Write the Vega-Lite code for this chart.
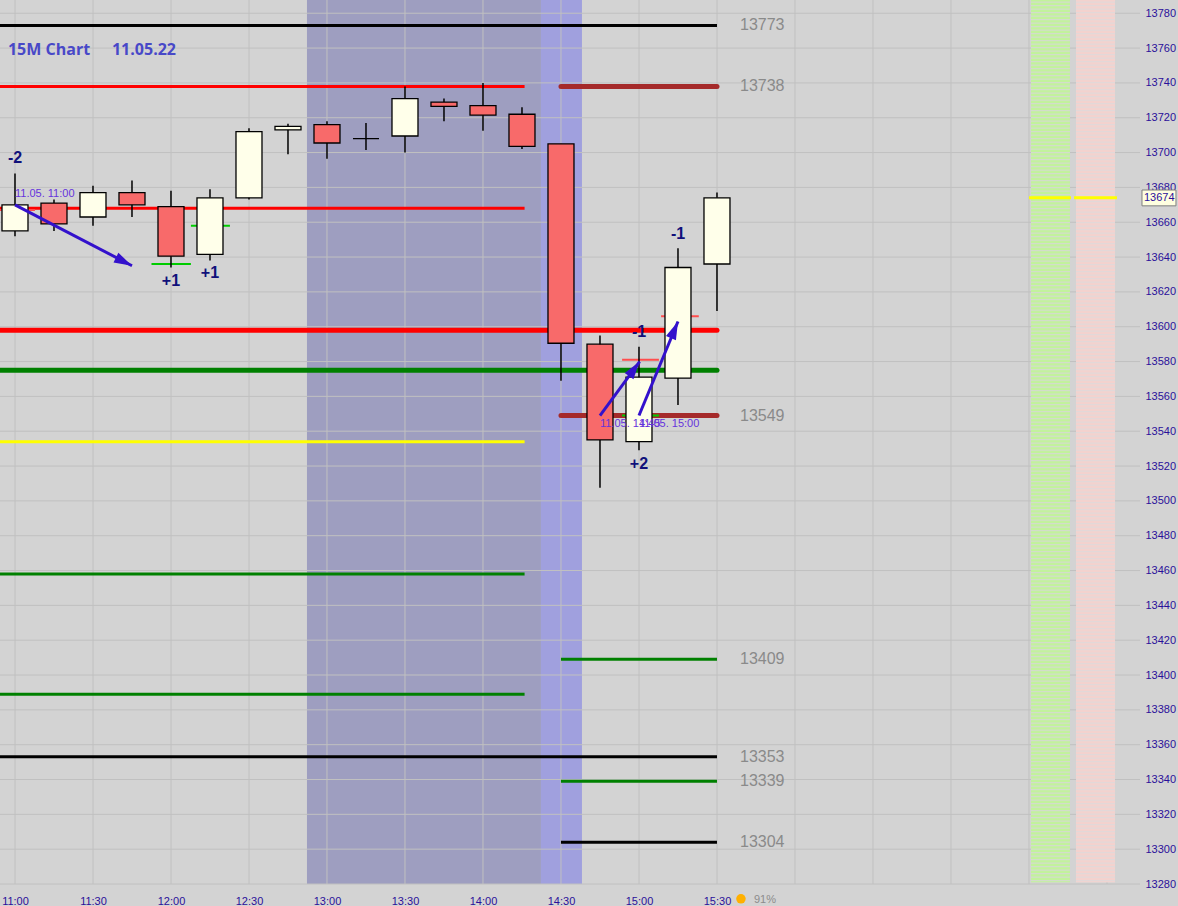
{
  "$schema": "https://vega.github.io/schema/vega-lite/v6.json",
  "width": 1140,
  "height": 884,
  "autosize": {"type": "none"},
  "padding": {"left": 0, "top": 0, "right": 38, "bottom": 22},
  "background": "#d3d3d3",
  "config": {"view": {"stroke": null, "fill": "#d3d3d3"}, "scale": {"continuousPadding": 0}},
  "resolve": {"scale": {"color": "independent", "fill": "independent", "stroke": "independent"}, "axis": {"x": "independent", "y": "independent"}},
  "datasets": {
    "zones": [
      {"t1": "2022-05-11T12:52:18", "t2": "2022-05-11T14:22:18", "z": "session"},
      {"t1": "2022-05-11T14:22:18", "t2": "2022-05-11T14:38:04", "z": "current"}
    ],
    "vgrid": [
      {"t": "2022-05-11T11:00:00"}, {"t": "2022-05-11T11:30:00"}, {"t": "2022-05-11T12:00:00"},
      {"t": "2022-05-11T12:30:00"}, {"t": "2022-05-11T13:00:00"}, {"t": "2022-05-11T13:30:00"},
      {"t": "2022-05-11T14:00:00"}, {"t": "2022-05-11T14:30:00"}, {"t": "2022-05-11T15:00:00"},
      {"t": "2022-05-11T15:30:00"}, {"t": "2022-05-11T16:00:00"}, {"t": "2022-05-11T16:30:00"},
      {"t": "2022-05-11T17:00:00"}, {"t": "2022-05-11T17:30:00"}, {"t": "2022-05-11T18:00:00"}
    ],
    "hgrid": [
      {"p": 13280}, {"p": 13300}, {"p": 13320}, {"p": 13340}, {"p": 13360}, {"p": 13380},
      {"p": 13400}, {"p": 13420}, {"p": 13440}, {"p": 13460}, {"p": 13480}, {"p": 13500},
      {"p": 13520}, {"p": 13540}, {"p": 13560}, {"p": 13580}, {"p": 13600}, {"p": 13620},
      {"p": 13640}, {"p": 13660}, {"p": 13680}, {"p": 13700}, {"p": 13720}, {"p": 13740},
      {"p": 13760}, {"p": 13780}
    ],
    "columns": [
      {"t1": "2022-05-11T17:30:46", "t2": "2022-05-11T17:45:46", "tm": "2022-05-11T17:38:16", "p1": 13788, "p2": 13281, "side": "buy"},
      {"t1": "2022-05-11T17:48:05", "t2": "2022-05-11T18:03:05", "tm": "2022-05-11T17:55:35", "p1": 13788, "p2": 13281, "side": "sell"}
    ],
    "curPrice": [
      {"t1": "2022-05-11T17:30:00", "t2": "2022-05-11T17:46:10", "p": 13674},
      {"t1": "2022-05-11T17:47:20", "t2": "2022-05-11T18:03:50", "p": 13674}
    ],
    "thinLevels": [
      {"p": 13773, "t1": "2022-05-11T10:54:14", "t2": "2022-05-11T15:30:00", "k": "black"},
      {"p": 13738, "t1": "2022-05-11T10:54:14", "t2": "2022-05-11T14:16:00", "k": "red"},
      {"p": 13668, "t1": "2022-05-11T10:54:14", "t2": "2022-05-11T14:16:00", "k": "red"},
      {"p": 13534, "t1": "2022-05-11T10:54:14", "t2": "2022-05-11T14:16:00", "k": "yellow"},
      {"p": 13458, "t1": "2022-05-11T10:54:14", "t2": "2022-05-11T14:16:00", "k": "green"},
      {"p": 13409, "t1": "2022-05-11T14:30:00", "t2": "2022-05-11T15:30:00", "k": "green"},
      {"p": 13389, "t1": "2022-05-11T10:54:14", "t2": "2022-05-11T14:16:00", "k": "green"},
      {"p": 13353, "t1": "2022-05-11T10:54:14", "t2": "2022-05-11T15:30:00", "k": "black"},
      {"p": 13339, "t1": "2022-05-11T14:30:00", "t2": "2022-05-11T15:30:00", "k": "green"},
      {"p": 13304, "t1": "2022-05-11T14:30:00", "t2": "2022-05-11T15:30:00", "k": "black"}
    ],
    "thickLevels": [
      {"p": 13738, "t1": "2022-05-11T14:30:00", "t2": "2022-05-11T15:30:00", "k": "brown"},
      {"p": 13598, "t1": "2022-05-11T10:54:14", "t2": "2022-05-11T15:30:00", "k": "red"},
      {"p": 13575, "t1": "2022-05-11T10:54:14", "t2": "2022-05-11T15:30:00", "k": "green"},
      {"p": 13549, "t1": "2022-05-11T14:30:00", "t2": "2022-05-11T15:30:00", "k": "brown"}
    ],
    "markers": [
      {"p": 13667, "t1": "2022-05-11T10:54:14", "t2": "2022-05-11T11:07:40", "k": "red"},
      {"p": 13636, "t1": "2022-05-11T11:52:30", "t2": "2022-05-11T12:07:40", "k": "green"},
      {"p": 13658, "t1": "2022-05-11T12:07:40", "t2": "2022-05-11T12:22:40", "k": "green"},
      {"p": 13581, "t1": "2022-05-11T14:53:30", "t2": "2022-05-11T15:07:40", "k": "red"},
      {"p": 13549, "t1": "2022-05-11T14:53:30", "t2": "2022-05-11T15:07:40", "k": "green"},
      {"p": 13606, "t1": "2022-05-11T15:08:30", "t2": "2022-05-11T15:23:00", "k": "red"}
    ],
    "candles": [
      {"t": "2022-05-11T11:00:00", "o": 13655, "h": 13688, "l": 13652, "c": 13670},
      {"t": "2022-05-11T11:15:00", "o": 13671, "h": 13673, "l": 13655, "c": 13659},
      {"t": "2022-05-11T11:30:00", "o": 13663, "h": 13681, "l": 13658, "c": 13677},
      {"t": "2022-05-11T11:45:00", "o": 13677, "h": 13684, "l": 13663, "c": 13670},
      {"t": "2022-05-11T12:00:00", "o": 13669, "h": 13678, "l": 13634, "c": 13640.5},
      {"t": "2022-05-11T12:15:00", "o": 13641.5, "h": 13679, "l": 13638, "c": 13674},
      {"t": "2022-05-11T12:30:00", "o": 13674, "h": 13714, "l": 13673, "c": 13712},
      {"t": "2022-05-11T12:45:00", "o": 13713, "h": 13716.5, "l": 13699, "c": 13715},
      {"t": "2022-05-11T13:00:00", "o": 13716, "h": 13718, "l": 13696.5, "c": 13705.5},
      {"t": "2022-05-11T13:15:00", "o": 13708, "h": 13717, "l": 13701.5, "c": 13708},
      {"t": "2022-05-11T13:30:00", "o": 13709.5, "h": 13738, "l": 13700, "c": 13731},
      {"t": "2022-05-11T13:45:00", "o": 13729, "h": 13731, "l": 13718, "c": 13726.5},
      {"t": "2022-05-11T14:00:00", "o": 13727, "h": 13740, "l": 13712.5, "c": 13721.5},
      {"t": "2022-05-11T14:15:00", "o": 13722, "h": 13726, "l": 13702, "c": 13703.5},
      {"t": "2022-05-11T14:30:00", "o": 13705, "h": 13705, "l": 13569, "c": 13590.5},
      {"t": "2022-05-11T14:45:00", "o": 13590, "h": 13595, "l": 13507.5, "c": 13535},
      {"t": "2022-05-11T15:00:00", "o": 13534, "h": 13588.5, "l": 13529, "c": 13571},
      {"t": "2022-05-11T15:15:00", "o": 13570.5, "h": 13645, "l": 13555, "c": 13634},
      {"t": "2022-05-11T15:30:00", "o": 13636, "h": 13677, "l": 13609, "c": 13674}
    ],
    "arrows": [
      {"id": "a1", "t1": "2022-05-11T11:00:00", "p1": 13670, "t2": "2022-05-11T11:45:00", "p2": 13635},
      {"id": "a2", "t1": "2022-05-11T14:45:00", "p1": 13549, "t2": "2022-05-11T15:00:15", "p2": 13580},
      {"id": "a3", "t1": "2022-05-11T15:00:00", "p1": 13549, "t2": "2022-05-11T15:15:00", "p2": 13603}
    ],
    "levelLabels": [
      {"t": "2022-05-11T15:30:00", "p": 13773},
      {"t": "2022-05-11T15:30:00", "p": 13738},
      {"t": "2022-05-11T15:30:00", "p": 13549},
      {"t": "2022-05-11T15:30:00", "p": 13409},
      {"t": "2022-05-11T15:30:00", "p": 13353},
      {"t": "2022-05-11T15:30:00", "p": 13339},
      {"t": "2022-05-11T15:30:00", "p": 13304}
    ],
    "signals": [
      {"t": "2022-05-11T11:00:00", "p": 13697, "s": "-2"},
      {"t": "2022-05-11T12:00:00", "p": 13626, "s": "+1"},
      {"t": "2022-05-11T12:15:00", "p": 13631, "s": "+1"},
      {"t": "2022-05-11T15:00:00", "p": 13597, "s": "-1"},
      {"t": "2022-05-11T15:15:00", "p": 13653, "s": "-1"},
      {"t": "2022-05-11T15:00:00", "p": 13521, "s": "+2"}
    ],
    "stamps": [
      {"t": "2022-05-11T11:00:00", "p": 13676, "s": "11.05. 11:00"},
      {"t": "2022-05-11T14:45:00", "p": 13544, "s": "11.05. 14:45"},
      {"t": "2022-05-11T15:00:00", "p": 13544, "s": "11.05. 15:00"}
    ],
    "titles": [
      {"t": "2022-05-11T10:57:18", "p": 13759, "s": "15M Chart"},
      {"t": "2022-05-11T11:37:18", "p": 13759, "s": "11.05.22"}
    ],
    "priceBox": [
      {"t1": "2022-05-11T18:13:28", "t2": "2022-05-11T18:26:32", "tt": "2022-05-11T18:14:13", "p1": 13678.5, "p2": 13669.4, "p": 13674}
    ],
    "footer": [
      {"t": "2022-05-11T15:48:28", "p": 13271, "s": "91%"}
    ],
    "icon": [
      {"t": "2022-05-11T15:39:13", "p": 13271.5}
    ]
  },
  "layer": [
    {
      "data": {"name": "zones"},
      "mark": {"type": "rect"},
      "encoding": {
        "x": {
          "field": "t1", "type": "temporal",
          "scale": {"padding": 0, "nice": false, "domain": [
            {"year": 2022, "month": 5, "date": 11, "hours": 10, "minutes": 54, "seconds": 14},
            {"year": 2022, "month": 5, "date": 11, "hours": 18, "minutes": 12, "seconds": 42}
          ]},
          "axis": {
            "orient": "bottom", "title": null, "grid": false, "domain": false, "ticks": false,
            "format": "%H:%M", "labelPadding": 11, "labelColor": "#2a0f9a", "labelFont": "Liberation Sans",
            "labelFontSize": 11, "labelFlush": false, "labelOverlap": false,
            "values": [
              {"year": 2022, "month": 5, "date": 11, "hours": 11, "minutes": 0},
              {"year": 2022, "month": 5, "date": 11, "hours": 11, "minutes": 30},
              {"year": 2022, "month": 5, "date": 11, "hours": 12, "minutes": 0},
              {"year": 2022, "month": 5, "date": 11, "hours": 12, "minutes": 30},
              {"year": 2022, "month": 5, "date": 11, "hours": 13, "minutes": 0},
              {"year": 2022, "month": 5, "date": 11, "hours": 13, "minutes": 30},
              {"year": 2022, "month": 5, "date": 11, "hours": 14, "minutes": 0},
              {"year": 2022, "month": 5, "date": 11, "hours": 14, "minutes": 30},
              {"year": 2022, "month": 5, "date": 11, "hours": 15, "minutes": 0},
              {"year": 2022, "month": 5, "date": 11, "hours": 15, "minutes": 30}
            ]
          }
        },
        "x2": {"field": "t2"},
        "fill": {"field": "z", "type": "nominal", "scale": {"domain": ["session", "current"], "range": ["#9e9ec0", "#a0a0de"]}, "legend": null}
      }
    },
    {
      "data": {"name": "vgrid"},
      "mark": {"type": "rule", "stroke": "#c0c0c0", "strokeWidth": 1},
      "encoding": {"x": {"field": "t", "type": "temporal", "axis": null}}
    },
    {
      "data": {"name": "hgrid"},
      "mark": {"type": "rule", "stroke": "#c0c0c0", "strokeWidth": 1},
      "encoding": {
        "y": {
          "field": "p", "type": "quantitative",
          "scale": {"domain": [13280, 13787.6], "zero": false, "nice": false, "padding": 0},
          "axis": {
            "orient": "right", "title": null, "grid": false, "domain": false, "ticks": false,
            "format": "d", "labelPadding": 5, "labelColor": "#2a0f9a", "labelFont": "Liberation Sans",
            "labelFontSize": 11, "labelFlush": false, "labelOverlap": false,
            "values": [13280, 13300, 13320, 13340, 13360, 13380, 13400, 13420, 13440, 13460, 13480, 13500, 13520, 13540, 13560, 13580, 13600, 13620, 13640, 13660, 13680, 13700, 13720, 13740, 13760, 13780]
          }
        }
      }
    },
    {
      "data": {"name": "columns"},
      "mark": {"type": "rect"},
      "encoding": {
        "x": {"field": "t1", "type": "temporal", "axis": null},
        "x2": {"field": "t2"},
        "y": {"field": "p1", "type": "quantitative", "axis": null},
        "y2": {"field": "p2"},
        "fill": {"field": "side", "type": "nominal", "scale": {"domain": ["buy", "sell"], "range": ["#d3dccb", "#e2d8d8"]}, "legend": null}
      }
    },
    {
      "data": {"name": "columns"},
      "mark": {"type": "rule", "strokeWidth": 39, "strokeDash": [2.3, 1.2], "strokeCap": "butt"},
      "encoding": {
        "x": {"field": "tm", "type": "temporal", "axis": null},
        "y": {"field": "p1", "type": "quantitative", "axis": null},
        "y2": {"field": "p2"},
        "stroke": {"field": "side", "type": "nominal", "scale": {"domain": ["buy", "sell"], "range": ["#c2f29c", "#f3d2ce"]}, "legend": null}
      }
    },
    {
      "data": {"name": "curPrice"},
      "mark": {"type": "rule", "stroke": "#ffff00", "strokeWidth": 3},
      "encoding": {
        "x": {"field": "t1", "type": "temporal", "axis": null},
        "x2": {"field": "t2"},
        "y": {"field": "p", "type": "quantitative", "axis": null}
      }
    },
    {
      "data": {"name": "thinLevels"},
      "mark": {"type": "rule", "strokeWidth": 3, "strokeCap": "butt"},
      "encoding": {
        "x": {"field": "t1", "type": "temporal", "axis": null},
        "x2": {"field": "t2"},
        "y": {"field": "p", "type": "quantitative", "axis": null},
        "stroke": {"field": "k", "type": "nominal", "scale": {"domain": ["black", "red", "yellow", "green"], "range": ["#000000", "#ff0000", "#ffff00", "#008000"]}, "legend": null}
      }
    },
    {
      "data": {"name": "thickLevels"},
      "mark": {"type": "rule", "strokeWidth": 5, "strokeCap": "round"},
      "encoding": {
        "x": {"field": "t1", "type": "temporal", "axis": null},
        "x2": {"field": "t2"},
        "y": {"field": "p", "type": "quantitative", "axis": null},
        "stroke": {"field": "k", "type": "nominal", "scale": {"domain": ["red", "green", "brown"], "range": ["#ff0000", "#008000", "#a52a2a"]}, "legend": null}
      }
    },
    {
      "data": {"name": "markers"},
      "mark": {"type": "rule", "strokeWidth": 2},
      "encoding": {
        "x": {"field": "t1", "type": "temporal", "axis": null},
        "x2": {"field": "t2"},
        "y": {"field": "p", "type": "quantitative", "axis": null},
        "stroke": {"field": "k", "type": "nominal", "scale": {"domain": ["red", "green"], "range": ["#ff4d4d", "#00cc00"]}, "legend": null}
      }
    },
    {
      "data": {"name": "candles"},
      "mark": {"type": "rule", "stroke": "#000000", "strokeWidth": 1.5},
      "encoding": {
        "x": {"field": "t", "type": "temporal", "axis": null},
        "y": {"field": "l", "type": "quantitative", "axis": null},
        "y2": {"field": "h"}
      }
    },
    {
      "data": {"name": "candles"},
      "mark": {"type": "bar", "size": 26, "stroke": "#000000", "strokeWidth": 1.3},
      "encoding": {
        "x": {"field": "t", "type": "temporal", "axis": null},
        "y": {"field": "o", "type": "quantitative", "axis": null},
        "y2": {"field": "c"},
        "fill": {"condition": {"test": "datum.c < datum.o", "value": "#f86a6a"}, "value": "#ffffea"}
      }
    },
    {
      "data": {"name": "arrows"},
      "mark": {"type": "rule", "stroke": "#3311cc", "strokeWidth": 3, "strokeCap": "butt"},
      "encoding": {
        "x": {"field": "t1", "type": "temporal", "axis": null},
        "x2": {"field": "t2"},
        "y": {"field": "p1", "type": "quantitative", "axis": null},
        "y2": {"field": "p2"}
      }
    },
    {
      "data": {"name": "arrows"},
      "transform": [{"filter": "datum.id == 'a1'"}],
      "mark": {"type": "point", "shape": "M0,0L0.9,3L-0.9,3Z", "size": 144, "angle": 117, "filled": true, "fill": "#3311cc", "strokeWidth": 0, "opacity": 1},
      "encoding": {
        "x": {"field": "t2", "type": "temporal", "axis": null},
        "y": {"field": "p2", "type": "quantitative", "axis": null}
      }
    },
    {
      "data": {"name": "arrows"},
      "transform": [{"filter": "datum.id == 'a2'"}],
      "mark": {"type": "point", "shape": "M0,0L0.9,3L-0.9,3Z", "size": 144, "angle": 36, "filled": true, "fill": "#3311cc", "strokeWidth": 0, "opacity": 1},
      "encoding": {
        "x": {"field": "t2", "type": "temporal", "axis": null},
        "y": {"field": "p2", "type": "quantitative", "axis": null}
      }
    },
    {
      "data": {"name": "arrows"},
      "transform": [{"filter": "datum.id == 'a3'"}],
      "mark": {"type": "point", "shape": "M0,0L0.9,3L-0.9,3Z", "size": 144, "angle": 23, "filled": true, "fill": "#3311cc", "strokeWidth": 0, "opacity": 1},
      "encoding": {
        "x": {"field": "t2", "type": "temporal", "axis": null},
        "y": {"field": "p2", "type": "quantitative", "axis": null}
      }
    },
    {
      "data": {"name": "levelLabels"},
      "mark": {"type": "text", "align": "left", "baseline": "middle", "dx": 23, "font": "Liberation Sans", "fontSize": 16, "fill": "#8a8a8a"},
      "encoding": {
        "x": {"field": "t", "type": "temporal", "axis": null},
        "y": {"field": "p", "type": "quantitative", "axis": null},
        "text": {"field": "p", "type": "quantitative", "format": "d"}
      }
    },
    {
      "data": {"name": "signals"},
      "mark": {"type": "text", "align": "center", "baseline": "middle", "font": "Liberation Sans", "fontSize": 16, "fontWeight": "bold", "fill": "#10107a"},
      "encoding": {
        "x": {"field": "t", "type": "temporal", "axis": null},
        "y": {"field": "p", "type": "quantitative", "axis": null},
        "text": {"field": "s", "type": "nominal"}
      }
    },
    {
      "data": {"name": "stamps"},
      "mark": {"type": "text", "align": "left", "baseline": "middle", "font": "Liberation Sans", "fontSize": 11, "fill": "#6633dd"},
      "encoding": {
        "x": {"field": "t", "type": "temporal", "axis": null},
        "y": {"field": "p", "type": "quantitative", "axis": null},
        "text": {"field": "s", "type": "nominal"}
      }
    },
    {
      "data": {"name": "titles"},
      "mark": {"type": "text", "align": "left", "baseline": "middle", "font": "Open Sans", "fontSize": 16, "fontWeight": "bold", "fill": "#4848c8"},
      "encoding": {
        "x": {"field": "t", "type": "temporal", "axis": null},
        "y": {"field": "p", "type": "quantitative", "axis": null},
        "text": {"field": "s", "type": "nominal"}
      }
    },
    {
      "data": {"name": "priceBox"},
      "mark": {"type": "rect", "fill": "#ffffe0", "stroke": "#7f7f7f", "strokeWidth": 1},
      "encoding": {
        "x": {"field": "t1", "type": "temporal", "axis": null},
        "x2": {"field": "t2"},
        "y": {"field": "p1", "type": "quantitative", "axis": null},
        "y2": {"field": "p2"}
      }
    },
    {
      "data": {"name": "priceBox"},
      "mark": {"type": "text", "align": "left", "baseline": "middle", "font": "Liberation Sans", "fontSize": 11, "fill": "#2a0f9a"},
      "encoding": {
        "x": {"field": "tt", "type": "temporal", "axis": null},
        "y": {"field": "p", "type": "quantitative", "axis": null},
        "text": {"field": "p", "type": "quantitative", "format": "d"}
      }
    },
    {
      "data": {"name": "footer"},
      "mark": {"type": "text", "align": "center", "baseline": "middle", "font": "Liberation Sans", "fontSize": 11, "fill": "#8c8c8c"},
      "encoding": {
        "x": {"field": "t", "type": "temporal", "axis": null},
        "y": {"field": "p", "type": "quantitative", "axis": null},
        "text": {"field": "s", "type": "nominal"}
      }
    },
    {
      "data": {"name": "icon"},
      "mark": {"type": "point", "shape": "circle", "size": 90, "filled": true, "fill": "#ffb000", "strokeWidth": 0, "opacity": 1},
      "encoding": {
        "x": {"field": "t", "type": "temporal", "axis": null},
        "y": {"field": "p", "type": "quantitative", "axis": null}
      }
    }
  ]
}
